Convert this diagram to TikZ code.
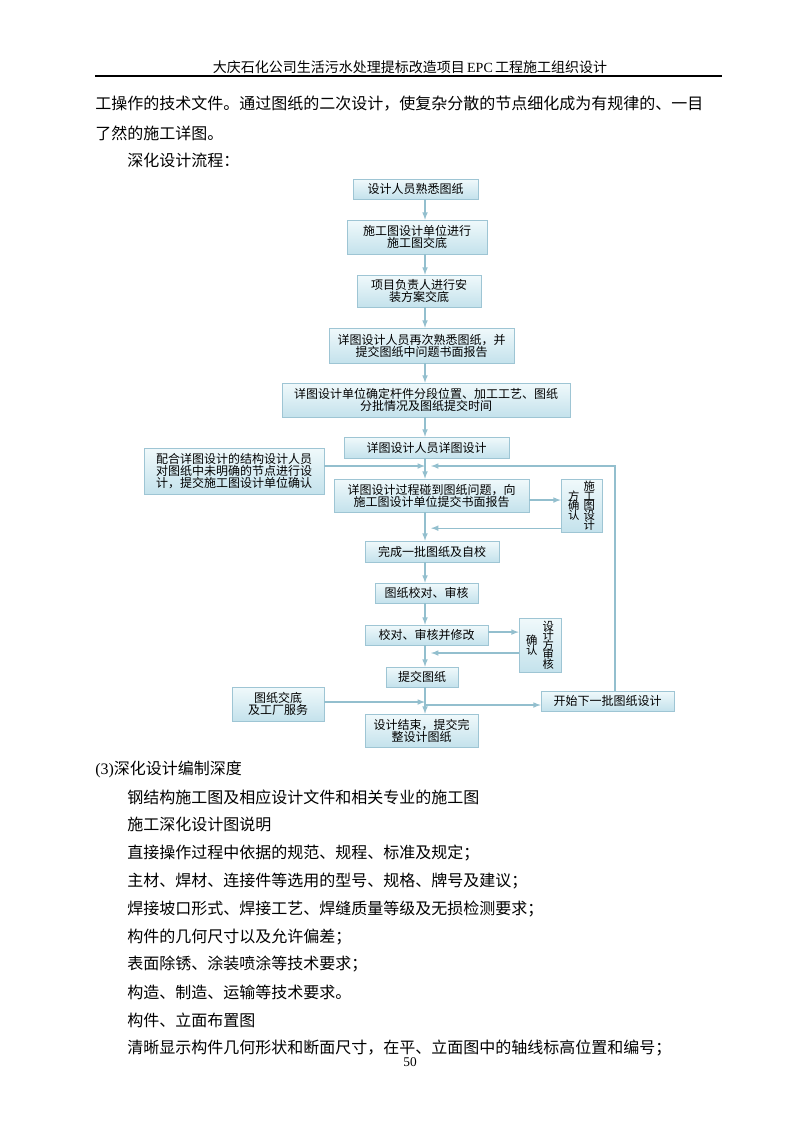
\documentclass[tikz,border=0pt]{standalone}
\usepackage{fontspec}
\setmainfont{Noto Sans CJK SC}
\newfontfamily\latinfont{Liberation Serif}
\usetikzlibrary{arrows,shadows}
\definecolor{boxtop}{HTML}{F0F9FB}
\definecolor{boxbot}{HTML}{C4E2EC}
\definecolor{boxline}{HTML}{9EC5D4}
\definecolor{flowline}{HTML}{93BFCE}
\newcommand{\flowbox}[6] % {name}{x}{y}{w}{h}{text}
{
	\node [stepbox, minimum width=#4*0.75pt, minimum height=#5*0.75pt] (#1) at (#2,#3) {#6};
}
\newcommand{\colstack}[1] % one column of vertical text
{$\vcenter{\baselineskip=7.2pt\lineskiplimit=-1in #1}$}
\tikzset{
	boxbase/.style={draw=boxline, top color=boxtop, bottom color=boxbot, inner sep=0pt,
		font=\fontsize{9}{9}\selectfont,
		drop shadow={shadow xshift=0.8pt, shadow yshift=-0.8pt, fill=gray!40}},
	stepbox/.style={boxbase, align=center},
	sidebox/.style={boxbase, font=\fontsize{8.5}{8.5}\selectfont},
	flow/.style={draw=flowline, line width=0.9pt, -latex},
	bodytext/.style={anchor=west, inner sep=0pt, font=\fontsize{12}{12}\selectfont},
}

\begin{document}
\begin{tikzpicture}[x=0.75pt, y=-0.75pt]
	\useasboundingbox (0,0) rectangle (800,1132);
	\fill [white] (0,0) rectangle (800,1132);

	% page header
	\node [inner sep=0pt, font=\fontsize{10.5}{10.5}\selectfont] (header) at (410,67) {大庆石化公司生活污水处理提标改造项目\,{\latinfont EPC}\,工程施工组织设计};
	\draw [line width=1.2pt] (95,76) -- (722,76);

	\node [bodytext] (p1) at (95,104) {工操作的技术文件。通过图纸的二次设计，使复杂分散的节点细化成为有规律的、一目};
	\node [bodytext] (p2) at (95,133) {了然的施工详图。};
	\node [bodytext] (p3) at (127,160) {深化设计流程：};

	% flow chart
	\coordinate (spine) at (425,0);
	\flowbox{b1}{415.5}{189}{125}{20}{设计人员熟悉图纸}
	\flowbox{b2}{417}{237}{140}{34}{施工图设计单位进行\\施工图交底}
	\flowbox{b3}{419}{291}{124}{32}{项目负责人进行安\\装方案交底}
	\flowbox{b4}{421.5}{345.5}{185}{35}{详图设计人员再次熟悉图纸，并\\提交图纸中问题书面报告}
	\flowbox{b5}{426}{400}{288}{34}{详图设计单位确定杆件分段位置、加工工艺、图纸\\分批情况及图纸提交时间}
	\flowbox{b6}{426.5}{447.5}{165}{21}{详图设计人员详图设计}
	\flowbox{left1}{234}{471}{180}{46}{配合详图设计的结构设计人员\\对图纸中未明确的节点进行设\\计，提交施工图设计单位确认}
	\flowbox{b7}{431.5}{495.5}{195}{33}{详图设计过程碰到图纸问题，向\\施工图设计单位提交书面报告}
	\node [sidebox, minimum width=41*0.75pt, minimum height=53*0.75pt] (side1) at (581.5,505.5)
		{\colstack{\hbox{方}\hbox{确}\hbox{认}}\hspace{3pt}\colstack{\hbox{施}\hbox{工}\hbox{图}\hbox{设}\hbox{计}}};
	\flowbox{b8}{432}{551.5}{134}{21}{完成一批图纸及自校}
	\flowbox{b9}{426.5}{593}{103}{20}{图纸校对、审核}
	\flowbox{b10}{426.5}{635}{123}{20}{校对、审核并修改}
	\node [sidebox, minimum width=42*0.75pt, minimum height=54*0.75pt] (side2) at (540,645)
		{\colstack{\hbox{确}\hbox{认}}\hspace{4pt}\colstack{\hbox{设}\hbox{计}\hbox{方}\hbox{审}\hbox{核}}};
	\flowbox{b11}{422}{677}{72}{20}{提交图纸}
	\flowbox{left2}{278}{704}{92}{34}{图纸交底\\及工厂服务}
	\flowbox{b12}{421.5}{730.5}{113}{33}{设计结束，提交完\\整设计图纸}
	\flowbox{next}{607.5}{701}{133}{20}{开始下一批图纸设计}

	\draw [flow] (b1.south -| spine) -- (b2.north -| spine);
	\draw [flow] (b2.south -| spine) -- (b3.north -| spine);
	\draw [flow] (b3.south -| spine) -- (b4.north -| spine);
	\draw [flow] (b4.south -| spine) -- (b5.north -| spine);
	\draw [flow] (b5.south -| spine) -- (b6.north -| spine);
	\draw [flow] (b6.south -| spine) -- (b7.north -| spine);
	\coordinate (join1) at (425,466);
	\coordinate (back1) at (431,466);
	\coordinate (loop) at (615,466);
	\draw [flow] (left1.east |- join1) -- (join1);
	\draw [flow] (next.north -| loop) |- (back1);
	\draw [flow] (b7.south -| spine) -- (b8.north -| spine);
	\draw [flow] ([yshift=-3.4pt]b7.east) -- ([yshift=-3.4pt]b7.east -| side1.west);
	\draw [flow] ([yshift=-17pt]side1.west) -- ([yshift=-17pt]side1.west -| back1);
	\draw [flow] (b8.south -| spine) -- (b9.north -| spine);
	\draw [flow] (b9.south -| spine) -- (b10.north -| spine);
	\draw [flow] (b10.south -| spine) -- (b11.north -| spine);
	\draw [flow] ([yshift=2.2pt]b10.east) -- ([yshift=2.2pt]b10.east -| side2.west);
	\draw [flow] ([yshift=-6pt]side2.west) -- ([yshift=-6pt]side2.west -| back1);
	\draw [flow] (b11.south -| spine) -- (b12.north -| spine);
	\coordinate (split) at (425,705);
	\draw [flow] ([yshift=1.5pt]left2.east) -- ([yshift=1.5pt]left2.east -| spine);
	\draw [flow] (split) -- (next.west |- split);

	% list below the chart
	\node [bodytext] (h3) at (95,769) {{\latinfont (3)}深化设计编制深度};
	\foreach \t [count=\i] in {钢结构施工图及相应设计文件和相关专业的施工图,
		施工深化设计图说明,
		直接操作过程中依据的规范、规程、标准及规定；,
		主材、焊材、连接件等选用的型号、规格、牌号及建议；,
		焊接坡口形式、焊接工艺、焊缝质量等级及无损检测要求；,
		构件的几何尺寸以及允许偏差；,
		表面除锈、涂装喷涂等技术要求；,
		构造、制造、运输等技术要求。,
		构件、立面布置图,
		清晰显示构件几何形状和断面尺寸，在平、立面图中的轴线标高位置和编号；}
		\node [bodytext] (item\i) at (127,{797+(\i-1)*27.9}) {\t};

	\node [inner sep=0pt, font=\latinfont\fontsize{10}{10}\selectfont] (pageno) at (410,1062) {50};
\end{tikzpicture}
\end{document}
